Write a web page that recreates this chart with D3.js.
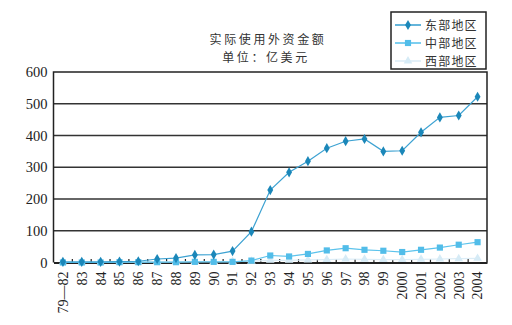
<!DOCTYPE html>
<html>
<head>
<meta charset="utf-8">
<script src="https://cdn.jsdelivr.net/npm/d3@7/dist/d3.min.js"></script>
<style>
  html, body { margin: 0; padding: 0; background: #fff; }
  svg { display: block; }
  .num { font-family: "Liberation Serif", "DejaVu Serif", serif; }
  .cjk { font-family: "Noto Sans CJK SC", sans-serif; }
</style>
</head>
<body>
<svg id="chart" width="512" height="325"></svg>
<script>
// Years (1979–82 is a combined period)
const years = ["79—82","83","84","85","86","87","88","89","90","91","92","93","94","95","96","97","98","99","2000","2001","2002","2003","2004"];
// Actually used foreign capital, 100 million USD
const east    = [2, 2, 2, 3, 4, 11, 14, 24, 25, 36, 97, 228, 284, 319, 360, 382, 389, 350, 352, 410, 457, 463, 522];
const central = [0, 0, 0, 1, 1, 1, 1, 2, 2, 2, 6, 22, 19, 27, 38, 45, 40, 37, 33, 40, 47, 56, 64];
const west    = [0, 0, 0, 1, 1, 2, 2, 3, 3, 3, 4, 7, 7, 8, 9, 11, 10, 9, 9, 10, 11, 12, 13];
const yTicks  = [0, 100, 200, 300, 400, 500, 600];

const seriesNames = ["东部地区", "中部地区", "西部地区"];
const seriesData  = [east, central, west];
const lineColors   = ["#3da2d2", "#5cc3ec", "#dcedf7"];
const markerColors = ["#1b87b9", "#52bde9", "#d6ebf6"];
const markerShapes = [d3.symbolDiamond, d3.symbolSquare, d3.symbolTriangle];
const markerSizes  = [30, 38, 32];

const svg = d3.select("#chart");
const plot = { left: 53.5, right: 487, top: 72, bottom: 262.5 };

const x = d3.scaleBand().domain(years).range([plot.left, plot.right]).padding(0);
const y = d3.scaleLinear().domain([0, 600]).range([plot.bottom, plot.top]);
const cx = d => x(d) + x.bandwidth() / 2;

// Title
const title = svg.append("g").attr("class", "cjk").attr("fill", "#333")
  .attr("font-size", 12).attr("letter-spacing", 2.6).attr("text-anchor", "middle");
title.append("text").attr("x", 268).attr("y", 44).text("实际使用外资金额");
title.append("text").attr("x", 266).attr("y", 61.5).text("单位：亿美元");

// Horizontal gridlines
svg.append("g")
  .selectAll("line")
  .data(yTicks.filter(v => v > 0 && v < 600))
  .join("line")
  .attr("x1", plot.left).attr("x2", plot.right)
  .attr("y1", d => y(d)).attr("y2", d => y(d))
  .attr("stroke", "#333").attr("stroke-width", 1.3);

// Plot frame (left, top, right)
svg.append("path")
  .attr("d", `M${plot.left},${plot.bottom}V${plot.top}H${plot.right}V${plot.bottom}`)
  .attr("fill", "none").attr("stroke", "#222").attr("stroke-width", 1.5);

// Y axis
const yAxis = svg.append("g")
  .attr("transform", `translate(${plot.left},0)`)
  .call(d3.axisLeft(y).tickValues(yTicks).tickSize(0).tickPadding(6));
yAxis.select(".domain").remove();
yAxis.selectAll("text").attr("class", "num").attr("font-size", 14.5).attr("fill", "#222");

// X axis with inward ticks at category boundaries
const xAxis = svg.append("g")
  .attr("transform", `translate(0,${plot.bottom})`)
  .call(d3.axisBottom(x).tickSize(0).tickPadding(0));
xAxis.select(".domain").attr("stroke", "#222").attr("stroke-width", 2);
xAxis.selectAll(".tick text")
  .attr("class", "num")
  .attr("font-size", 14)
  .attr("fill", "#222")
  .attr("text-anchor", "end")
  .attr("dy", "0.35em")
  .attr("transform", "translate(0,9) rotate(-90)")
  .attr("x", 0).attr("y", 0);
svg.append("g")
  .selectAll("line")
  .data(years.slice(1))
  .join("line")
  .attr("x1", d => x(d)).attr("x2", d => x(d))
  .attr("y1", plot.bottom).attr("y2", plot.bottom - 3.5)
  .attr("stroke", "#222").attr("stroke-width", 1.2);

// Series lines and markers (west drawn first so east sits on top)
const line = d3.line().x((v, i) => cx(years[i])).y(v => y(v));
[2, 1, 0].forEach(k => {
  const g = svg.append("g");
  g.append("path")
    .datum(seriesData[k])
    .attr("d", line)
    .attr("fill", "none")
    .attr("stroke", lineColors[k])
    .attr("stroke-width", 1.2);
  g.selectAll("path.m")
    .data(seriesData[k])
    .join("path")
    .attr("class", "m")
    .attr("transform", (v, i) => `translate(${cx(years[i])},${y(v)})`)
    .attr("d", d3.symbol().type(markerShapes[k]).size(markerSizes[k]))
    .attr("fill", markerColors[k]);
});

// Legend
const legend = svg.append("g");
legend.append("rect")
  .attr("x", 391).attr("y", 12).attr("width", 95).attr("height", 57)
  .attr("fill", "#fff").attr("stroke", "#222").attr("stroke-width", 1.5);
seriesNames.forEach((name, k) => {
  const ly = 25 + k * 18;
  legend.append("line")
    .attr("x1", 395).attr("x2", 421).attr("y1", ly).attr("y2", ly)
    .attr("stroke", lineColors[k]).attr("stroke-width", 1.6);
  legend.append("path")
    .attr("transform", `translate(408,${ly})`)
    .attr("d", d3.symbol().type(markerShapes[k]).size(markerSizes[k]))
    .attr("fill", markerColors[k]);
  legend.append("text")
    .attr("class", "cjk")
    .attr("x", 425).attr("y", ly + 4.5)
    .attr("font-size", 12).attr("letter-spacing", 1.2).attr("fill", "#333")
    .text(name);
});
</script>
</body>
</html>
